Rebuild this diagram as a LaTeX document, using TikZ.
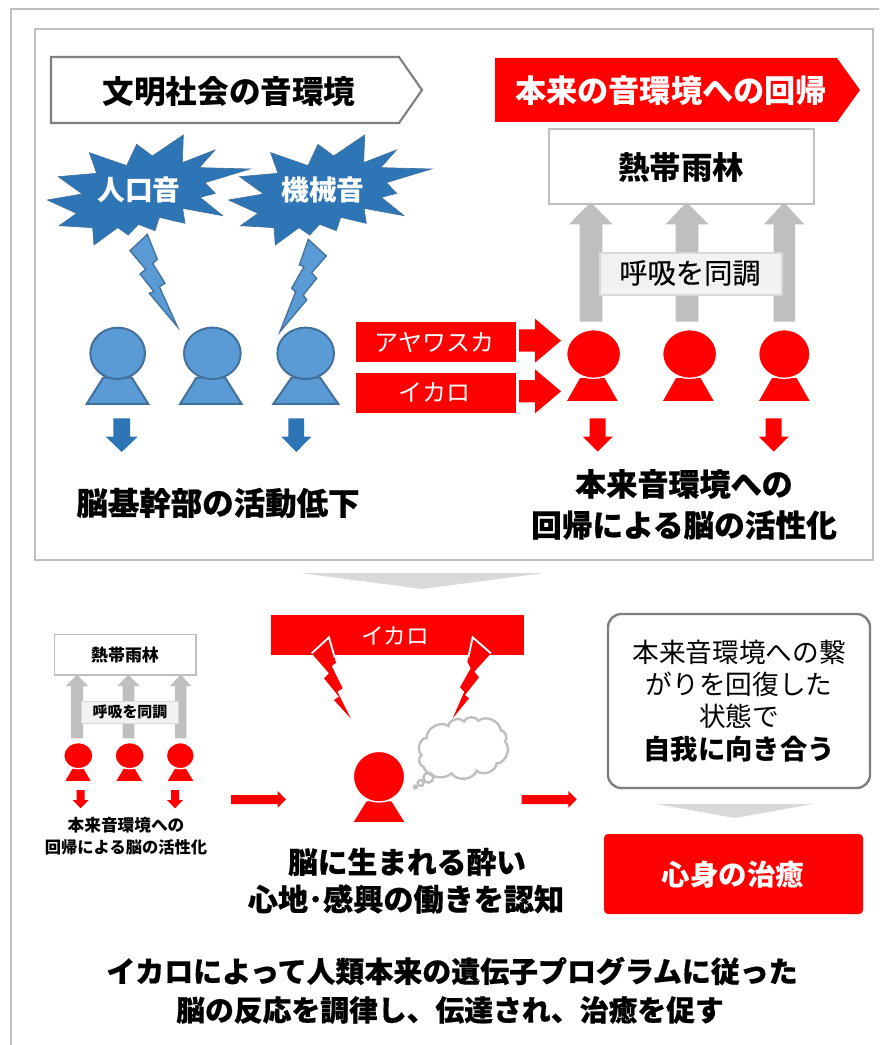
\documentclass[tikz,border=0pt]{standalone}
\usepackage{fontspec}
\setmainfont{Noto Sans CJK JP}
\usetikzlibrary{calc}
\definecolor{bluefill}{HTML}{5B9BD5}
\definecolor{blueline}{HTML}{41719C}
\definecolor{bluedark}{HTML}{2E75B6}
\definecolor{framegray}{HTML}{BFBFBF}
\definecolor{midgray}{HTML}{7F7F7F}
\definecolor{lightgray2}{HTML}{D9D9D9}
\definecolor{palegray}{HTML}{F2F2F2}
\newcommand\sz[1]{\fontsize{#1}{#1}\selectfont}
\newcommand\heavy{\bfseries\addfontfeature{FakeBold=0.6}}
\tikzset{
  tx/.style={inner sep=0pt,outer sep=0pt,align=center,text=black},
  bl/.style={tx,font=\bfseries},
  wh/.style={inner sep=0pt,outer sep=0pt,text=white},
  blueshape/.style={fill=bluefill,draw=blueline,line width=1.5pt},
  burst/.style={fill=bluedark,draw=blueline,line width=.5pt},
  bluearrow/.style={fill=bluedark},
  redshape/.style={fill=red,draw=white,line width=1pt},
  redflat/.style={fill=red},
  grayarrow/.style={fill=framegray},
  frame/.style={draw=framegray,line width=1.6pt},
  labelbox/.style={fill=palegray,draw=lightgray2,line width=1.4pt},
  cloudline/.style={draw=framegray,line width=1.8pt,fill=white}
}
\newcommand\burstpath{(460,45)--(457,128)--(555,90)--(508,143)--(660,147)--(525,188)--(556,220)--(510,232)--(578,287)--(458,265)--(465,310)--(388,292)--(375,332)--(325,313)--(295,345)--(263,323)--(192,375)--(188,323)--(88,317)--(140,280)--(52,240)--(157,222)--(85,170)--(200,160)--(178,98)--(290,137)--(320,73)--(367,108)--cycle}
\newcommand\headbody[9]{%
  \path[#1] (#6,#8)--(#7,#8)--({(#6+#7)/2+#9},{#3+0.95*#5})--({(#6+#7)/2-#9},{#3+0.95*#5})--cycle;
  \path[#1] (#2,#3) ellipse ({#4} and {#5});
}
\begin{document}
\begin{tikzpicture}[x=0.75pt,y=-0.75pt]
\useasboundingbox (0,0) rectangle (879,1045);
\fill[white] (0,0) rectangle (879,1045);
% frames
\draw[frame] (879,9)--(11,9)--(11,1045);
\draw[frame,line width=2pt] (35,29) rectangle (873,560);
% headers
\draw[draw=midgray,line width=1.6pt,fill=white] (51,57)--(399,57)--(422,90)--(399,123)--(51,123)--cycle;
\node[bl,font=\bfseries\sz{23.7pt}] (h1) at (229,92) {文明社会の音環境};
\fill[red] (495,58)--(837,58)--(860,90)--(837,122)--(495,122)--cycle;
\node[wh,font=\bfseries\sz{23.4pt}] (h2) at (671,91) {本来の音環境への回帰};
% bursts
\begin{scope}[shift={(30,120)},scale=0.33333]
  \path[burst] \burstpath;
  \begin{scope}[shift={(544,0)}]
    \path[burst] \burstpath;
  \end{scope}
  % bolts
  \path[blueshape,line width=1pt] (300,392)--(352,343)--(382,418)--(368,430)--(405,490)--(388,500)--(442,620)--(358,520)--(372,515)--(330,462)--(347,448)--cycle;
  \path[blueshape,line width=1pt] (835,358)--(889,408)--(845,458)--(860,475)--(820,525)--(830,540)--(750,635)--(797,515)--(785,505)--(822,440)--(808,435)--cycle;
  % blue people
  \headbody{blueshape}{263}{700}{82}{77}{170}{355}{852}{43}
  \headbody{blueshape}{547}{700}{85}{77}{450}{635}{852}{43}
  \headbody{blueshape}{827}{700}{85}{77}{730}{925}{852}{43}
  % blue arrows
  \fill[bluearrow] (250,895)--(300,895)--(300,950)--(323,950)--(275,996)--(227,950)--(250,950)--cycle;
  \fill[bluearrow] (775,895)--(822,895)--(822,950)--(844,950)--(799,996)--(754,950)--(775,950)--cycle;
\end{scope}
\node[wh,font=\bfseries\sz{20.8pt}] (b1) at (139,190) {人口音};
\node[wh,font=\bfseries\sz{20.8pt}] (b2) at (323,190) {機械音};
% rainforest box
\draw[frame,fill=white] (549,129) rectangle (814,204);
\node[bl,font=\bfseries\sz{23.6pt}] (rf) at (681,168) {熱帯雨林};
\begin{scope}[shift={(350,190)},scale=0.33333]
  \fill[grayarrow] (689,395)--(689,103)--(657,103)--(722,37)--(788,103)--(757,103)--(757,395)--cycle;
  \fill[grayarrow] (977,395)--(977,103)--(946,103)--(1010,37)--(1076,103)--(1045,103)--(1045,395)--cycle;
  \fill[grayarrow] (1271,395)--(1271,103)--(1242,103)--(1302,37)--(1363,103)--(1335,103)--(1335,395)--cycle;
  \path[labelbox] (750,190) rectangle (1297,315);
  \fill[red] (18,396) rectangle (498,516);
  \fill[red] (18,548) rectangle (498,668);
  \fill[red] (507,418)--(555,418)--(555,386)--(633,452)--(555,518)--(555,485)--(507,485)--cycle;
  \fill[red] (507,570)--(555,570)--(555,538)--(633,604)--(555,670)--(555,637)--(507,637)--cycle;
  \headbody{redshape}{731}{492}{81}{73}{647}{807}{635}{38}
  \headbody{redshape}{1019}{492}{81}{73}{935}{1095}{635}{38}
  \headbody{redshape}{1303}{492}{77}{73}{1223}{1383}{635}{38}
  \fill[red] (719,685)--(767,685)--(767,740)--(788,740)--(743,785)--(698,740)--(719,740)--cycle;
  \fill[red] (1247,685)--(1295,685)--(1295,740)--(1316,740)--(1271,785)--(1226,740)--(1247,740)--cycle;
\end{scope}
\node[tx,font=\addfontfeature{FakeBold=0.3}\sz{21.2pt}] (sync) at (690,273) {呼吸を同調};
\node[wh,font=\sz{18pt}] (aya) at (434,342) {アヤワスカ};
\node[wh,font=\sz{18pt}] (ika) at (434,392) {イカロ};
\node[bl,font=\heavy\sz{23.6pt}] (t1) at (218,503) {脳基幹部の活動低下};
\node[bl,font=\heavy\sz{23.3pt}] (t2) at (684,484) {本来音環境への};
\node[bl,font=\heavy\sz{23pt}] (t3) at (684,525) {回帰による脳の活性化};
% divider
\fill[lightgray2] (300,573)--(544,573)--(422,589)--cycle;
% small panel
\begin{scope}[shift={(30,600)},scale=0.33333]
  \path[frame,line width=1.2pt,fill=white] (73,103) rectangle (498,225);
  \fill[grayarrow] (123,415)--(123,258)--(108,258)--(141,224)--(174,258)--(159,258)--(159,415)--cycle;
  \fill[grayarrow] (278,415)--(278,258)--(262,258)--(295,224)--(329,258)--(313,258)--(313,415)--cycle;
  \fill[grayarrow] (435,415)--(435,258)--(420,258)--(452,224)--(484,258)--(469,258)--(469,415)--cycle;
  \path[labelbox,line width=1pt] (155,305) rectangle (445,370);
  \headbody{redshape}{145}{467}{44}{39}{102}{186}{545}{18}
  \headbody{redshape}{299}{467}{44}{39}{255}{340}{545}{18}
  \headbody{redshape}{451}{467}{42}{39}{409}{494}{545}{18}
  \fill[red] (140,570)--(164,570)--(164,600)--(176,600)--(152,625)--(128,600)--(140,600)--cycle;
  \fill[red] (423,570)--(447,570)--(447,600)--(459,600)--(435,625)--(411,600)--(423,600)--cycle;
  \fill[red] (603,585)--(743,585)--(743,573)--(768,598)--(743,623)--(743,612)--(603,612)--cycle;
\end{scope}
\node[bl,font=\bfseries\sz{12.7pt}] (s1) at (125,655) {熱帯雨林};
\node[bl,font=\bfseries\sz{11.2pt}] (s2) at (130,712) {呼吸を同調};
\node[bl,font=\bfseries\sz{12.5pt}] (s3) at (126,825) {本来音環境への};
\node[bl,font=\bfseries\sz{12.2pt}] (s4) at (126,847) {回帰による脳の活性化};
% icaro panel
\begin{scope}[shift={(260,600)},scale=0.33333]
  \fill[red] (33,46) rectangle (793,165);
  \fill[red] (155,160)--(207,112)--(228,188)--(215,198)--(248,265)--(232,275)--(272,355)--(222,300)--(237,290)--(192,235)--(207,220)--cycle;
  \fill[red] (638,112)--(693,160)--(643,215)--(657,232)--(615,285)--(627,295)--(578,355)--(613,275)--(600,262)--(632,205)--(622,185)--cycle;
  \draw[white,line width=1.4pt] (155,160)--(207,112)--(224,172);
  \draw[white,line width=1.4pt] (693,160)--(638,112)--(625,172);
  % cloud
  \path[cloudline] (500,413) to[bend left=65] (565,378) to[bend left=70] (612,365) to[bend left=70] (655,362)
     to[bend left=60] (722,390) to[bend left=60] (735,425) to[bend left=70] (710,490) to[bend left=65] (650,512)
     to[bend left=65] (575,520) to[bend left=55] (490,500) to[bend left=70] (485,465)
     to[bend left=70] cycle;
  \draw[framegray,line width=1.8pt] (505,533) circle (15);
  \draw[framegray,line width=1.8pt] (482,549) circle (9);
  \fill[framegray] (466,561) circle (8);
  \headbody{redshape}{357}{530}{77}{76}{277}{437}{668}{39}
  \fill[red] (785,585)--(925,585)--(925,573)--(950,598)--(925,623)--(925,612)--(785,612)--cycle;
\end{scope}
\node[wh,font=\sz{17pt}] (ic2) at (395,636) {イカロ};
\node[bl,font=\heavy\sz{22.3pt}] (c1) at (407,862) {脳に生まれる酔い};
\node[bl,font=\heavy\sz{22.6pt}] (c2) at (406,899) {心地･感興の働きを認知};
% right panel
\draw[draw=midgray,line width=1.8pt,fill=white,rounded corners=10pt] (608,614) rectangle (870,788);
\node[tx,font=\sz{20pt}] (r1) at (739,652) {本来音環境への繋};
\node[tx,font=\sz{20pt}] (r2) at (739,684) {がりを回復した};
\node[tx,font=\sz{20pt}] (r3) at (739,716) {状態で};
\node[bl,font=\bfseries\sz{20.5pt}] (r4) at (739,749) {自我に向き合う};
\fill[lightgray2] (656,804)--(813,804)--(735,818)--cycle;
\fill[red,rounded corners=3pt] (604,834) rectangle (863,914);
\node[wh,font=\bfseries\sz{21.4pt}] (heal) at (733,875) {心身の治癒};
% bottom
\node[bl,font=\heavy\sz{21.7pt}] (f1) at (452,971) {イカロによって人類本来の遺伝子プログラムに従った};
\node[bl,font=\heavy\sz{21.6pt}] (f2) at (450,1010) {脳の反応を調律し、伝達され、治癒を促す};
\end{tikzpicture}
\end{document}
